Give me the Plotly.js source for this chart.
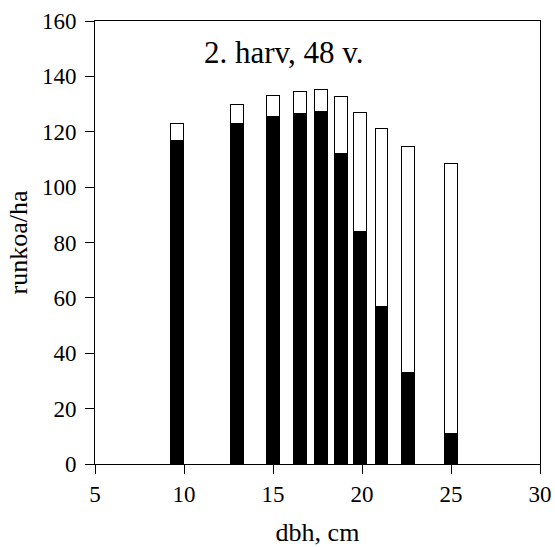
<!DOCTYPE html>
<html>
<head>
<meta charset="utf-8">
<script src="https://cdn.plot.ly/plotly-3.0.1.min.js"></script>
<style>
html,body{margin:0;padding:0;background:#fff;}
</style>
</head>
<body>
<div id="chart" style="width:555px;height:547px;"></div>
<script>
// dbh class midpoints (cm)
const dbh = [9.6, 13.0, 15.0, 16.5, 17.7, 18.8, 19.9, 21.1, 22.6, 25.0];
// remaining stems (black part), stems/ha
const remaining = [117, 123, 125.5, 126.5, 127.3, 112.2, 83.8, 57, 32.9, 10.9];
// removed stems (white part), stems/ha
const removed = [6, 7, 7.6, 8, 7.8, 20.5, 43.3, 64.1, 81.9, 97.6];
const xTicks = [5, 10, 15, 20, 25, 30];
const yTicks = [0, 20, 40, 60, 80, 100, 120, 140, 160];

const serif = "Liberation Serif";

const traces = [
  {type: 'bar', x: dbh, y: remaining, width: 0.72,
   marker: {color: '#000000', line: {color: '#000000', width: 1}}, name: 'remaining'},
  {type: 'bar', x: dbh, y: removed, width: 0.72,
   marker: {color: '#ffffff', line: {color: '#000000', width: 1}}, name: 'removed'}
];

const layout = {
  width: 555, height: 547,
  barmode: 'stack',
  showlegend: false,
  paper_bgcolor: '#ffffff', plot_bgcolor: '#ffffff',
  margin: {l: 95, r: 15, t: 21, b: 83},
  font: {family: serif, color: '#000000', size: 23},
  xaxis: {
    range: [5, 30], tickmode: 'array', tickvals: xTicks,
    showgrid: false, zeroline: false, showline: true, linecolor: '#000', linewidth: 1,
    mirror: true, ticks: 'outside', ticklen: 9, tickcolor: '#000',
    tickfont: {family: serif, size: 23, color: '#000'},
    title: {text: 'dbh, cm', font: {family: serif, size: 26, color: '#000'}, standoff: 17}
  },
  yaxis: {
    range: [0, 160], tickmode: 'array', tickvals: yTicks,
    showgrid: false, zeroline: false, showline: true, linecolor: '#000', linewidth: 1,
    mirror: true, ticks: 'outside', ticklen: 9, tickcolor: '#000', ticklabelstandoff: 4,
    tickfont: {family: serif, size: 23, color: '#000'},
    title: {text: 'runkoa/ha', font: {family: serif, size: 26, color: '#000'}, standoff: 6}
  },
  annotations: [{
    x: 15.6, y: 148.8, xref: 'x', yref: 'y', showarrow: false,
    text: '2. harv, 48 v.', font: {family: serif, size: 31, color: '#000'}
  }]
};

Plotly.newPlot('chart', traces, layout, {displayModeBar: false, staticPlot: true});
</script>
</body>
</html>
